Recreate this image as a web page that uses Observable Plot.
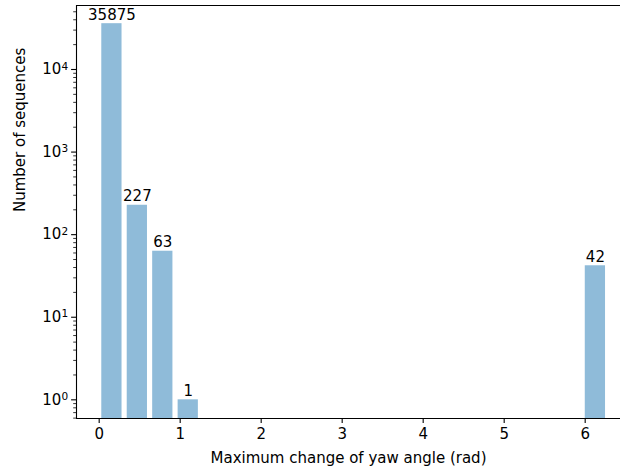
<!DOCTYPE html>
<html><head><meta charset="utf-8">
<script src="https://cdn.jsdelivr.net/npm/d3@7"></script>
<script src="https://cdn.jsdelivr.net/npm/@observablehq/plot@0.6"></script>
<style>
body{margin:0;background:#fff}
svg{font-family:"DejaVu Sans",sans-serif;overflow:hidden}
</style>
</head><body><div id="chart"></div>
<script>
// histogram bins (rad) and counts
const binLow  = [0, 0.3142, 0.6283, 0.9425, 5.9690];
const binHigh = [0.3142, 0.6283, 0.9425, 1.2566, 6.2832];
const counts  = [35875, 227, 63, 1, 42];
const xTicks = [0, 1, 2, 3, 4, 5, 6];
const yTicks = [1, 10, 100, 1000, 10000];
const xDomain = [-0.28, 6.436];
const yDomain = [0.594, 59560];
const xLabel = "Maximum change of yaw angle (rad)";
const yLabel = "Number of sequences";

const fs = 15;
const expOf = v => String(Math.round(Math.log10(v)));

const minorTicks = [];
for (let e = -1; e <= 4; e++) for (let k = 2; k <= 9; k++) {
  const v = k * Math.pow(10, e);
  if (v >= yDomain[0] && v <= yDomain[1]) minorTicks.push(v);
}

const idx = counts.map((_, i) => i);
const color = "#1f77b4";

const chart = Plot.plot({
  width: 620,
  height: 471,
  marginLeft: 76,
  marginRight: 0,
  marginTop: 5,
  marginBottom: 53,
  style: {fontFamily: "DejaVu Sans", fontSize: fs + "px", color: "#000", background: "#fff"},
  x: {domain: xDomain},
  y: {type: "log", domain: yDomain},
  marks: [
    Plot.rect(idx, {
      x1: i => binLow[i], x2: i => binHigh[i],
      y1: () => yDomain[0], y2: i => counts[i],
      fill: color, fillOpacity: 0.5,
      insetLeft: 2.6, insetRight: 2.6
    }),
    Plot.text(idx, {
      x: i => (binLow[i] + binHigh[i]) / 2, y: i => counts[i],
      text: i => String(counts[i]),
      lineAnchor: "bottom", dy: -4, fontSize: fs, fill: "#000"
    }),
    Plot.ruleX([xDomain[0]], {stroke: "#000", strokeWidth: 1.1}),
    Plot.ruleY([yDomain[0]], {stroke: "#000", strokeWidth: 1.1}),
    Plot.ruleY([yDomain[1]], {stroke: "#000", strokeWidth: 1.1}),
    Plot.axisX({ticks: xTicks, tickSize: 4.9, tickPadding: 4.5, tickFormat: d => String(d), label: null, fontSize: fs, strokeWidth: 1.1}),
    Plot.axisY({ticks: yTicks, tickSize: 4.9, tickPadding: 3.5, tickFormat: v => "10^" + expOf(v), label: null, fontSize: fs, strokeWidth: 1.1, ariaLabel: "y-major"}),
    Plot.axisY({ticks: minorTicks, tickSize: 2.8, tickFormat: () => "", label: null, strokeWidth: 0.8}),
    Plot.text([xLabel], {frameAnchor: "bottom", dy: 40, text: d => d, fontSize: fs, fill: "#000", lineAnchor: "middle"}),
    Plot.text([yLabel], {frameAnchor: "left", dx: -56, rotate: -90, text: d => d, fontSize: fs, fill: "#000", lineAnchor: "middle"})
  ]
});
// render exponents as raised, smaller text (like mathtext)
chart.querySelectorAll("text").forEach(t => {
  const s = t.textContent;
  const m = /^10\^(-?\d+)$/.exec(s);
  if (m) {
    t.textContent = "10";
    const ts = document.createElementNS("http://www.w3.org/2000/svg", "tspan");
    ts.setAttribute("dy", "-0.45em");
    ts.setAttribute("font-size", "0.7em");
    ts.textContent = m[1];
    t.appendChild(ts);
  }
});
document.getElementById("chart").appendChild(chart);
</script>
</body></html>
